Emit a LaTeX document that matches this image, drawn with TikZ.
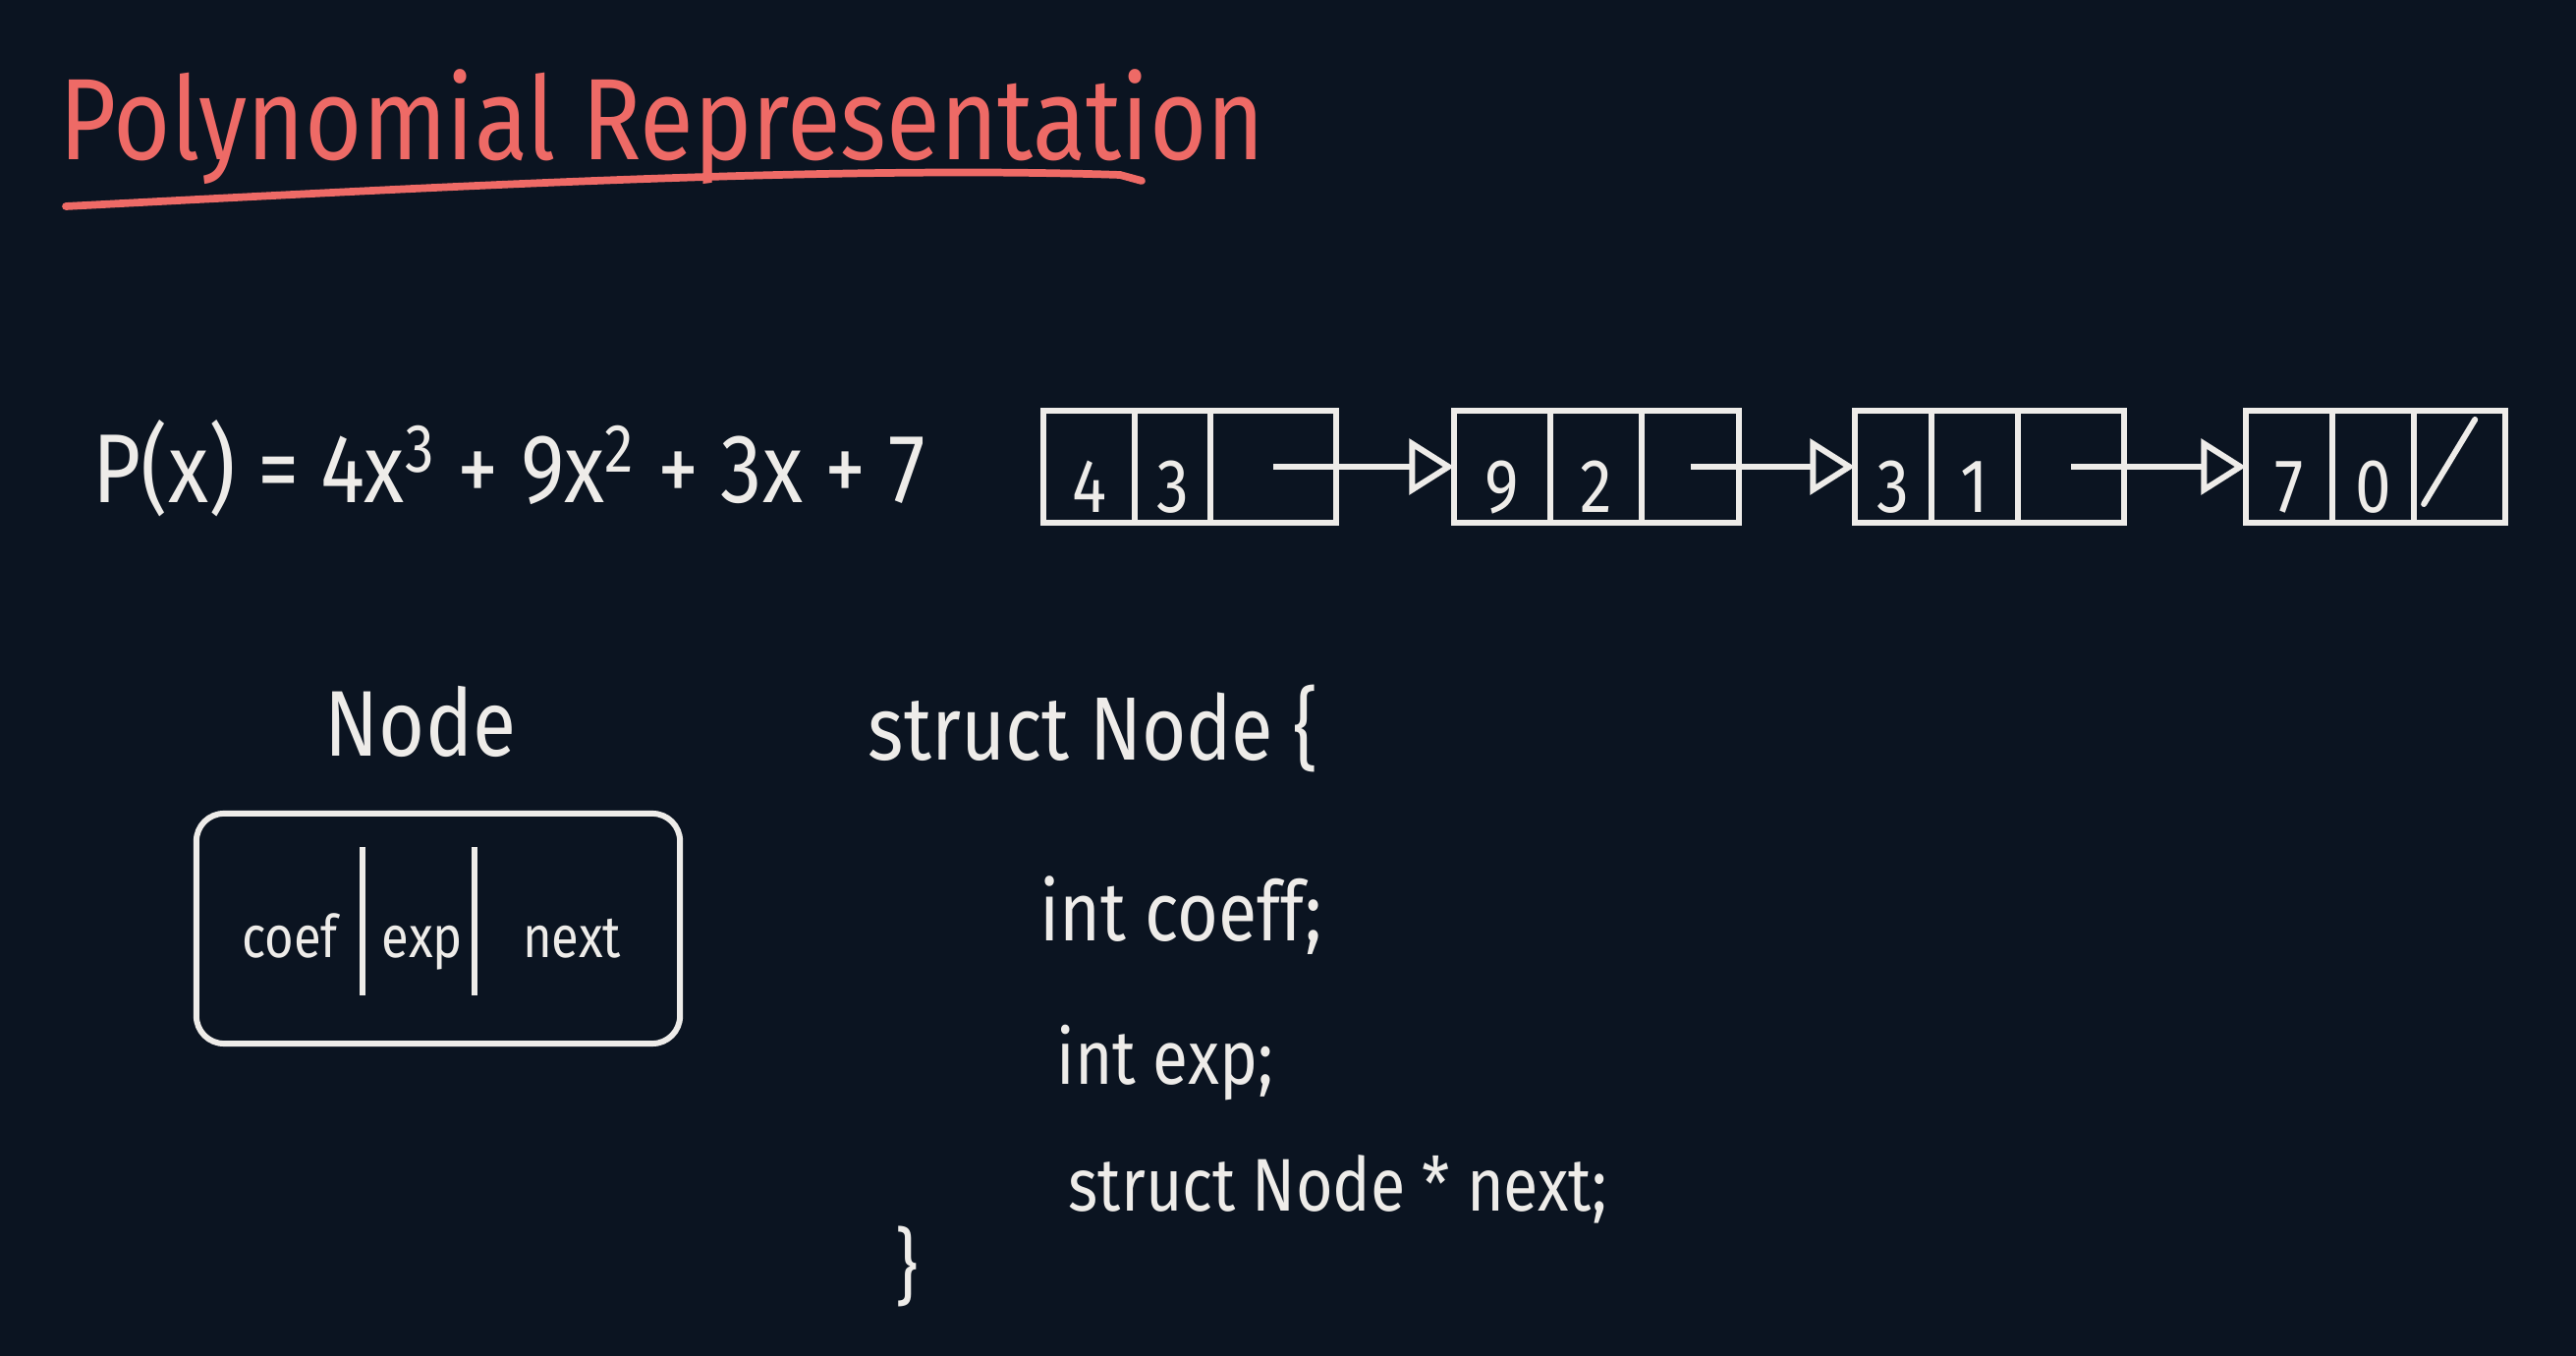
\documentclass[tikz,border=0pt]{standalone}
\usepackage{fontspec}
\setmainfont{Fira Sans}[FakeStretch=0.85]
\usetikzlibrary{arrows.meta,positioning,calc}

\definecolor{board}{HTML}{0B1421}
\definecolor{chalk}{HTML}{EEECE9}
\definecolor{salmon}{HTML}{EE6A66}

\begin{document}
\begin{tikzpicture}[
    x=0.01cm, y=-0.01cm,
    ink/.style={draw=chalk, line width=1.7pt},
    cell/.style={ink, minimum height=1.14cm, inner sep=0pt, outer sep=0pt, text height=0.92cm, text depth=0pt, text=chalk, font=\fontsize{22}{24}\selectfont},
    ptr/.style={ink, -{Triangle[open, length=13pt, width=16pt]}},
    hand/.style={text=chalk, inner sep=0pt, font=\fontsize{24}{28}\selectfont},
    field/.style={text=chalk, inner sep=0pt, font=\fontsize{17}{20}\selectfont}
]
\fill[board] (0,0) rectangle (2622,1380);
\useasboundingbox (0,0) rectangle (2622,1380);

% heading
\node[anchor=base west, text=salmon, inner sep=0pt, font=\fontsize{33.5}{36}\selectfont] (title) at (60,163) {Polynomial Representation};
\draw[salmon, line width=2.2pt, line cap=round] (67,210) .. controls (450,190) and (850,168) .. (1140,178) -- (1162,184);

% the polynomial
\node[hand, anchor=base west, font=\fontsize{28.3}{30}\selectfont] (poly) at (94,512) {P(x) = 4x\textsuperscript{3} + 9x\textsuperscript{2} + 3x + 7};

% linked list of terms
\node[cell, anchor=west, minimum width=0.93cm] (a1) at (1062,475) {4};
\node[cell, right=0pt of a1, minimum width=0.77cm] (a2) {3};
\node[cell, right=0pt of a2, minimum width=1.28cm] (a3) {};

\node[cell, anchor=west, minimum width=0.98cm] (b1) at (1480,475) {9};
\node[cell, right=0pt of b1, minimum width=0.93cm] (b2) {2};
\node[cell, right=0pt of b2, minimum width=0.99cm] (b3) {};

\node[cell, anchor=west, minimum width=0.78cm] (c1) at (1888,475) {3};
\node[cell, right=0pt of c1, minimum width=0.88cm] (c2) {1};
\node[cell, right=0pt of c2, minimum width=1.08cm] (c3) {};

\node[cell, anchor=west, minimum width=0.88cm] (d1) at (2286,475) {7};
\node[cell, right=0pt of d1, minimum width=0.83cm] (d2) {0};
\node[cell, right=0pt of d2, minimum width=0.93cm] (d3) {};

\draw[ptr] (a3.center) -- (b1.west);
\draw[ptr] (b3.center) -- (c1.west);
\draw[ptr] (c3.center) -- (d1.west);
\draw[ink, line cap=round] ($(d3.south west)+(10,-19)$) -- ($(d3.north east)+(-31,9)$);

% node layout
\node[hand, anchor=base, font=\fontsize{27}{30}\selectfont] (lbl) at (428,770) {Node};
\node[ink, rounded corners=8pt, minimum width=4.92cm, minimum height=2.34cm] (rec) at (446,945) {};
\draw[ink] ($(rec.north west)+(172,37)$) -- ($(rec.south west)+(172,-52)$);
\draw[ink] ($(rec.north west)+(286,37)$) -- ($(rec.south west)+(286,-52)$);
\node[field, anchor=base] (coef) at (295,975) {coef};
\node[field, anchor=base] (exp) at (430,975) {exp};
\node[field, anchor=base] (nxt) at (582,975) {next};

% struct definition
\node[hand, anchor=base west, font=\fontsize{26}{30}\selectfont] (hdr) at (883,774) {struct Node \{};
\node[hand, anchor=base west] (fcoef) at (1058,958) {int coeff;};
\node[hand, anchor=base west, font=\fontsize{22}{26}\selectfont] (fexp) at (1075,1103) {int exp;};
\node[hand, anchor=base west, font=\fontsize{21.6}{26}\selectfont] (fnext) at (1087,1232) {struct Node * next;};
\node[hand, anchor=base west] (close) at (911,1318) {\}};
\end{tikzpicture}
\end{document}
